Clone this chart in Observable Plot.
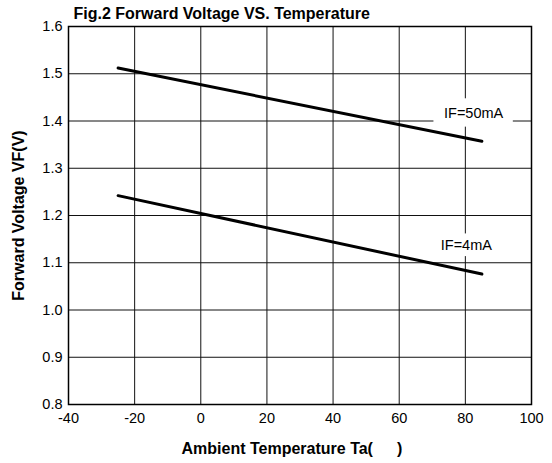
<!DOCTYPE html>
<html>
<head>
<meta charset="utf-8">
<script src="https://cdn.jsdelivr.net/npm/d3@7"></script>
<script src="https://cdn.jsdelivr.net/npm/@observablehq/plot@0.6"></script>
<style>
  html, body { margin: 0; padding: 0; background: #fff; }
  #chart svg { display: block; }
</style>
</head>
<body>
<div id="chart"></div>
<script>
// ---- data ----
const title = "Fig.2 Forward Voltage VS. Temperature";
const xLabel = "Ambient Temperature Ta(\u2003\u2002)";
const yLabel = "Forward Voltage VF(V)";
const xTicks = [-40, -20, 0, 20, 40, 60, 80, 100];
const yTicks = [0.8, 0.9, 1.0, 1.1, 1.2, 1.3, 1.4, 1.5, 1.6];
const temps = [-25, 85];
const vf50mA = [1.512, 1.357];
const vf4mA = [1.242, 1.076];
const seriesNames = ["IF=50mA", "IF=4mA"];
const labelX = [82.5, 80.3];
const labelY = [1.417, 1.137];

// ---- build tables ----
const lines = [];
temps.forEach((t, i) => lines.push({series: seriesNames[0], t, v: vf50mA[i]}));
temps.forEach((t, i) => lines.push({series: seriesNames[1], t, v: vf4mA[i]}));
const labels = seriesNames.map((s, i) => ({s, x: labelX[i], y: labelY[i]}));
const boxPadX = [12, 10];
const boxPadY = [0.03, 0.024];
const boxes = labels.map((d, i) => ({x1: d.x - boxPadX[i], x2: d.x + boxPadX[i], y1: d.y - boxPadY[i], y2: d.y + boxPadY[i]}));

const font = "'Liberation Sans', Arial, sans-serif";

const chart = Plot.plot({
  width: 552,
  height: 463,
  marginLeft: 68,
  marginRight: 21,
  marginTop: 26,
  marginBottom: 59,
  style: {fontFamily: font, fontSize: "14.5px", background: "#fff", color: "#000"},
  x: {domain: [-40, 100], ticks: xTicks},
  y: {domain: [0.8, 1.6], ticks: yTicks},
  marks: [
    Plot.ruleX(xTicks.slice(1, -1), {stroke: "#111", strokeWidth: 1}),
    Plot.ruleY(yTicks.slice(1, -1), {stroke: "#111", strokeWidth: 1}),
    Plot.rect(boxes, {x1: "x1", x2: "x2", y1: "y1", y2: "y2", fill: "#fff"}),
    Plot.text(labels, {x: "x", y: "y", text: "s", fontSize: 14.5, fill: "#000"}),
    Plot.line(lines, {x: "t", y: "v", z: "series", stroke: "#000", strokeWidth: 3}),
    Plot.frame({stroke: "#000", strokeWidth: 1.5}),
    Plot.axisX(xTicks, {tickSize: 0, tickPadding: 8, label: null, tickFormat: d => String(d), fontSize: 14.5}),
    Plot.axisY(yTicks, {tickSize: 0, tickPadding: 6, label: null, tickFormat: d3.format(".1f"), fontSize: 14.5}),
    Plot.text([title], {frameAnchor: "top-left", dx: 5, dy: -12.6, lineAnchor: "middle", textAnchor: "start", fontWeight: "bold", fontSize: 16}),
    Plot.text([xLabel], {frameAnchor: "bottom-left", dx: 113, dy: 44, lineAnchor: "middle", textAnchor: "start", fontWeight: "bold", fontSize: 16}),
    Plot.text([yLabel], {frameAnchor: "left", dx: -50, rotate: -90, lineAnchor: "middle", textAnchor: "middle", fontWeight: "bold", fontSize: 16})
  ]
});
document.getElementById("chart").appendChild(chart);
</script>
</body>
</html>
